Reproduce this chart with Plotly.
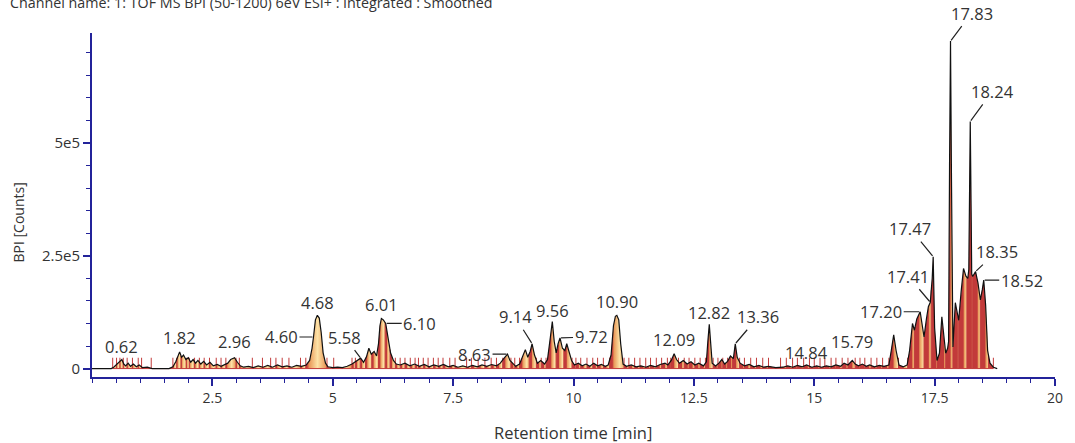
import numpy as np
import plotly.graph_objects as go

# ---------------- data ----------------
times = [0.00, 0.40, 0.45, 0.50, 0.55, 0.62, 0.66, 0.70, 0.75, 0.80, 0.86, 0.92, 0.98, 1.05, 1.15, 1.25, 1.60,
         1.68, 1.74, 1.78, 1.82, 1.86, 1.90, 1.95, 2.00, 2.05, 2.10, 2.15, 2.20, 2.26, 2.32, 2.38, 2.45, 2.52,
         2.60, 2.68, 2.75, 2.82, 2.88, 2.96, 3.02, 3.08, 3.15, 3.25, 3.35, 3.45, 3.55, 3.65, 3.75, 3.85, 3.95,
         4.05, 4.15, 4.25, 4.35, 4.45, 4.52, 4.57, 4.60, 4.64, 4.68, 4.72, 4.76, 4.80, 4.85, 4.90, 5.00, 5.10,
         5.20, 5.30, 5.40, 5.48, 5.58, 5.64, 5.70, 5.75, 5.80, 5.86, 5.91, 5.95, 5.98, 6.01, 6.05, 6.10, 6.15,
         6.20, 6.26, 6.32, 6.40, 6.50, 6.60, 6.70, 6.80, 6.90, 7.00, 7.10, 7.20, 7.30, 7.40, 7.50, 7.60, 7.70,
         7.80, 7.90, 8.00, 8.10, 8.20, 8.30, 8.40, 8.48, 8.55, 8.63, 8.68, 8.74, 8.80, 8.88, 8.95, 9.00, 9.05,
         9.10, 9.14, 9.19, 9.25, 9.32, 9.40, 9.46, 9.52, 9.56, 9.60, 9.64, 9.68, 9.72, 9.77, 9.82, 9.86, 9.90,
         9.96, 10.02, 10.10, 10.18, 10.26, 10.34, 10.42, 10.50, 10.58, 10.66, 10.72, 10.78, 10.83, 10.87, 10.90,
         10.94, 10.98, 11.03, 11.10, 11.20, 11.30, 11.40, 11.50, 11.60, 11.70, 11.80, 11.90, 11.96, 12.03, 12.09,
         12.14, 12.20, 12.28, 12.36, 12.44, 12.52, 12.60, 12.70, 12.76, 12.79, 12.82, 12.85, 12.88, 12.95, 13.02,
         13.08, 13.14, 13.20, 13.26, 13.32, 13.36, 13.40, 13.46, 13.55, 13.65, 13.75, 13.85, 13.95, 14.05, 14.20,
         14.35, 14.45, 14.55, 14.65, 14.75, 14.84, 14.95, 15.05, 15.15, 15.25, 15.35, 15.45, 15.55, 15.62, 15.70,
         15.79, 15.85, 15.92, 16.00, 16.08, 16.15, 16.25, 16.35, 16.45, 16.55, 16.60, 16.65, 16.70, 16.76, 16.85,
         16.93, 16.98, 17.04, 17.08, 17.13, 17.20, 17.24, 17.28, 17.33, 17.37, 17.41, 17.45, 17.47, 17.50, 17.55,
         17.60, 17.65, 17.70, 17.73, 17.77, 17.79, 17.81, 17.83, 17.85, 17.88, 17.93, 17.97, 18.00, 18.05, 18.10,
         18.15, 18.19, 18.21, 18.22, 18.24, 18.26, 18.27, 18.29, 18.33, 18.35, 18.40, 18.45, 18.49, 18.52, 18.56,
         18.60, 18.65, 18.72, 18.80]

bpi_k = [0, 0, 3, 8, 14, 20, 10, 6, 12, 5, 10, 4, 8, 2, 3, 0, 0,
         4, 15, 28, 37, 25, 30, 20, 24, 14, 20, 12, 18, 10, 16, 8, 14, 6,
         9, 5, 8, 12, 20, 24, 14, 6, 3, 5, 2, 6, 3, 7, 3, 8, 4,
         6, 3, 7, 5, 8, 18, 45, 70, 108, 118, 112, 80, 35, 12, 4, 2, 3,
         2, 5, 10, 16, 23, 14, 26, 45, 32, 38, 28, 55, 95, 111, 108, 100, 70,
         35, 18, 10, 8, 12, 6, 10, 5, 9, 4, 8, 5, 9, 4, 7, 3, 6,
         3, 7, 4, 8, 5, 9, 6, 12, 22, 32, 18, 12, 5, 10, 30, 42, 25,
         38, 55, 30, 12, 18, 10, 20, 70, 104, 60, 35, 55, 68, 45, 40, 55, 40,
         18, 8, 12, 6, 10, 5, 12, 6, 9, 5, 8, 30, 95, 116, 118,
         108, 55, 10, 5, 8, 4, 6, 3, 7, 4, 9, 12, 8, 18, 33,
         20, 12, 18, 10, 15, 8, 12, 6, 15, 60, 98, 55, 12, 6, 12,
         20, 10, 16, 28, 22, 55, 25, 12, 6, 9, 4, 7, 3, 5, 2,
         3, 6, 3, 7, 4, 8, 3, 6, 3, 6, 4, 8, 5, 12, 8,
         18, 10, 6, 10, 5, 8, 4, 7, 5, 8, 40, 75, 40, 8, 4,
         8, 40, 100, 85, 110, 126, 100, 70, 110, 137, 147, 200, 248, 90, 18,
         34, 115, 60, 34, 45, 60, 450, 726, 420, 48, 146, 120, 107, 170, 222,
         205, 200, 220, 350, 548, 330, 210, 204, 210, 215, 190, 152, 175, 196, 140,
         40, 12, 3, 0]

bpi = [v * 1000 for v in bpi_k]

# integration boundaries (min)
boundaries = [0.43, 0.51, 0.58, 0.65, 0.73, 0.84, 0.96, 1.03, 1.23, 1.68, 1.76, 1.85, 1.96, 2.02, 2.13, 2.23,
              2.33, 2.44, 2.58, 2.68, 2.78, 2.99, 3.06, 3.33, 3.54, 3.71, 3.82, 3.95, 4.09, 4.33, 4.44, 4.88,
              5.02, 5.40, 5.47, 5.57, 5.68, 5.81, 5.95, 6.09, 6.19, 6.30, 6.40, 6.50, 6.61, 6.71, 6.78, 6.88,
              6.98, 7.09, 7.19, 7.29, 7.43, 7.54, 7.78, 7.88, 8.02, 8.16, 8.29, 8.40, 8.53, 8.70, 8.78, 8.88,
              9.08, 9.23, 9.33, 9.43, 9.48, 9.64, 9.80, 9.97, 10.05, 10.15, 10.28, 10.40, 10.50, 10.62, 10.75,
              11.05, 11.15, 11.27, 11.38, 11.50, 11.60, 11.72, 11.83, 11.95, 12.02, 12.18, 12.30, 12.40, 12.52,
              12.63, 12.74, 12.90, 13.00, 13.10, 13.20, 13.30, 13.45, 13.55, 13.68, 13.80, 13.93, 14.05, 14.30,
              14.42, 14.55, 14.65, 14.78, 14.90, 15.00, 15.12, 15.22, 15.35, 15.45, 15.58, 15.70, 15.85, 15.95,
              16.05, 16.18, 16.30, 16.42, 16.55, 16.75, 16.94, 17.08, 17.28, 17.43, 17.55, 17.60, 17.73, 17.88,
              18.00, 18.17, 18.29, 18.45, 18.62, 18.72]

peak_labels = ["0.62", "1.82", "2.96", "4.60", "4.68", "5.58", "6.01", "6.10", "8.63", "9.14", "9.56", "9.72",
               "10.90", "12.09", "12.82", "13.36", "14.84", "15.79", "17.20", "17.41", "17.47", "17.83",
               "18.24", "18.35", "18.52"]

x_tickvals = [2.5, 5, 7.5, 10, 12.5, 15, 17.5, 20]
x_ticktext = ["2.5", "5", "7.5", "10", "12.5", "15", "17.5", "20"]
y_tickvals = [0, 250000, 500000]
y_ticktext = ["0", "2.5e5", "5e5"]

# ---------------- styling ----------------
AXIS_COLOR = "#23239a"
TEXT_COLOR = "#333333"
FONT = "Open Sans"
TICK_H = 24000
GRAD = [[0, "#c23a3a"], [0.12, "#e99a5a"], [0.5, "#fde2a6"], [0.88, "#e99a5a"], [1, "#c23a3a"]]

# label text offsets in px (ax, ay, draw connector)
label_offsets = {
    "0.62": (0, -13, False), "1.82": (0, -14, False), "2.96": (0, -16, False), "4.60": (-32, 0, True),
    "4.68": (0, -13, False), "5.58": (-16, -21, True), "6.01": (0, -14, False), "6.10": (34, 0, True),
    "8.63": (-33, 0, True), "9.14": (-17, -27, True), "9.56": (0, -11, False), "9.72": (31, -1, True),
    "10.90": (0, -14, False), "12.09": (0, -14, False), "12.82": (0, -12, False), "13.36": (23, -27, True),
    "14.84": (0, -12, False), "15.79": (0, -19, False), "17.20": (-39, 0, True), "17.41": (-22, -26, True),
    "17.47": (-23, -28, True), "17.83": (21, -28, True), "18.24": (22, -30, True), "18.35": (21, -20, True),
    "18.52": (38, 0, True),
}

t_arr = np.array(times)
b_arr = np.array(bpi, dtype=float)

fig = go.Figure()

# integrated peak fills
for a, b in zip(boundaries[:-1], boundaries[1:]):
    m = (t_arr > a) & (t_arr < b)
    xs = [a] + list(t_arr[m]) + [b]
    ys = [float(np.interp(a, t_arr, b_arr))] + list(b_arr[m]) + [float(np.interp(b, t_arr, b_arr))]
    fig.add_trace(go.Scatter(
        x=xs, y=ys, mode="lines", line=dict(width=0), fill="tozeroy",
        fillgradient=dict(type="horizontal", colorscale=GRAD, start=a, stop=b),
        hoverinfo="skip", showlegend=False))

# integration boundary drop lines and baseline
bx, by = [], []
for a in boundaries:
    h = max(float(np.interp(a, t_arr, b_arr)), TICK_H)
    bx += [a, a, None]
    by += [0, h, None]
bx += [boundaries[0], boundaries[-1]]
by += [0, 0]
fig.add_trace(go.Scatter(x=bx, y=by, mode="lines", line=dict(color="#c23a3a", width=1),
                         hoverinfo="skip", showlegend=False))

# chromatogram line
fig.add_trace(go.Scatter(x=times, y=bpi, mode="lines", line=dict(color="#111111", width=1.2),
                         showlegend=False))

# peak labels
for lab in peak_labels:
    t = float(lab)
    yv = float(np.interp(t, t_arr, b_arr))
    ax, ay, show = label_offsets[lab]
    fig.add_annotation(x=t, y=yv, text=lab, showarrow=True, ax=ax, ay=ay, arrowhead=0,
                       arrowwidth=1.2, arrowcolor="#222222" if show else "rgba(0,0,0,0)",
                       standoff=1, font=dict(family=FONT, size=16.5, color=TEXT_COLOR))

# titles
fig.add_annotation(xref="paper", yref="paper", x=-0.087, y=1.088, xanchor="left", yanchor="middle",
                   text="Channel name: 1: TOF MS BPI (50-1200) 6eV ESI+ : Integrated : Smoothed",
                   showarrow=False, font=dict(family=FONT, size=14.3, color=TEXT_COLOR))
fig.add_annotation(xref="paper", yref="paper", x=-0.0765, y=0.45, xanchor="center", yanchor="middle",
                   text="BPI [Counts]", textangle=-90, showarrow=False,
                   font=dict(family=FONT, size=14, color=TEXT_COLOR))
fig.add_annotation(xref="paper", yref="paper", x=0.499, y=-0.162, xanchor="center", yanchor="middle",
                   text="Retention time [min]", showarrow=False,
                   font=dict(family=FONT, size=16.5, color=TEXT_COLOR))

fig.update_xaxes(range=[0, 20], tickvals=x_tickvals, ticktext=x_ticktext, showline=True, linecolor=AXIS_COLOR,
                 linewidth=2, ticks="outside", ticklen=7, tickwidth=1.5, tickcolor=AXIS_COLOR,
                 minor=dict(dtick=0.5, tick0=0, ticks="outside", ticklen=4, tickcolor=AXIS_COLOR, tickwidth=1),
                 showgrid=False, zeroline=False, tickfont=dict(family=FONT, size=14, color=TEXT_COLOR))
fig.update_yaxes(range=[-18700, 744000], tickvals=y_tickvals, ticktext=y_ticktext, showline=True,
                 linecolor=AXIS_COLOR, linewidth=2, ticks="outside", ticklen=7, tickwidth=1.5,
                 tickcolor=AXIS_COLOR,
                 minor=dict(dtick=50000, tick0=0, ticks="outside", ticklen=4, tickcolor=AXIS_COLOR, tickwidth=1),
                 showgrid=False, zeroline=False, tickfont=dict(family=FONT, size=15, color=TEXT_COLOR))

fig.update_layout(width=1075, height=443, margin=dict(l=92, r=15, t=33, b=66),
                  plot_bgcolor="white", paper_bgcolor="white", font=dict(family=FONT))

fig.write_html("out.html", config={"displayModeBar": False},
               post_script="document.body.style.margin='0px';")
